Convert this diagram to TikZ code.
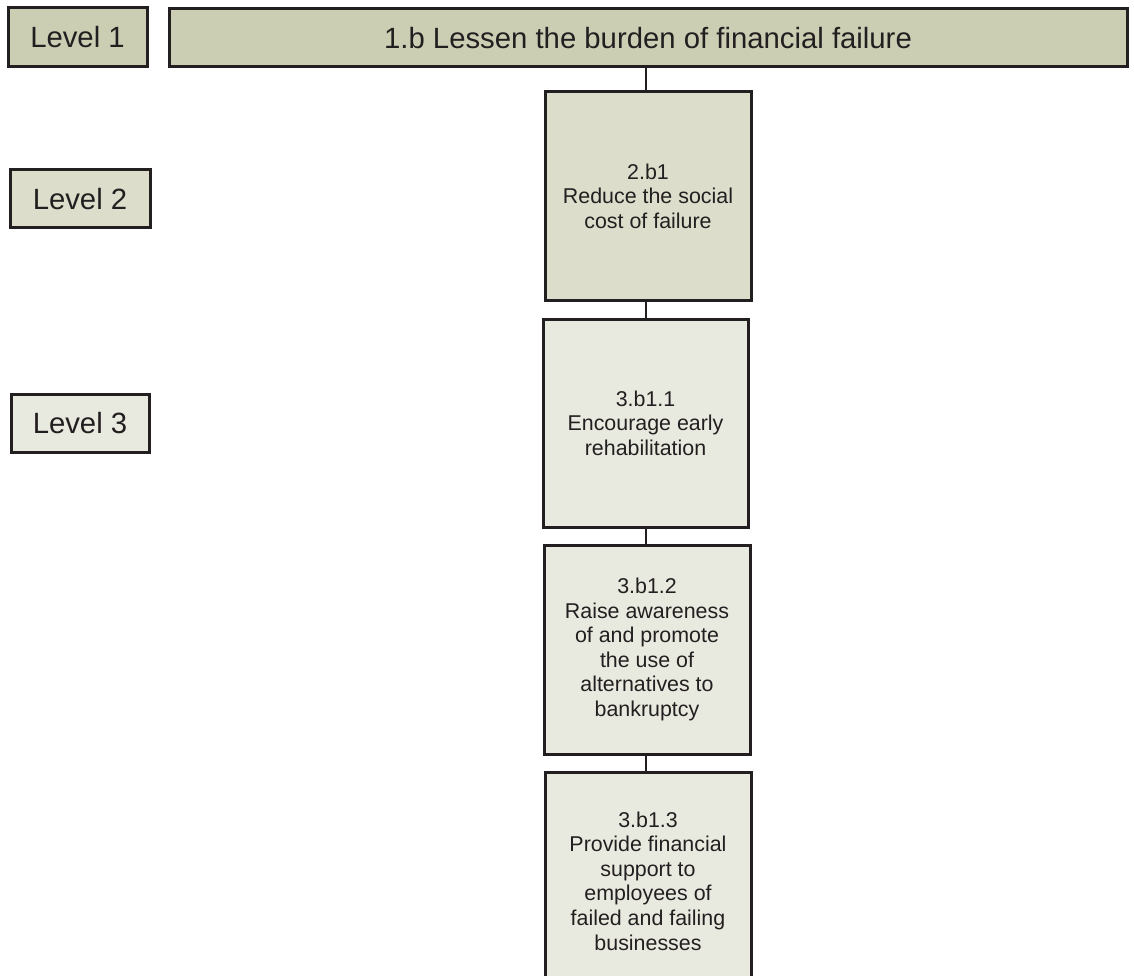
\documentclass[tikz,border=0pt]{standalone}
\usepackage{fontspec}
\setmainfont{Liberation Sans}
\definecolor{lvone}{HTML}{CCCEB4}
\definecolor{lvtwo}{HTML}{DCDDCB}
\definecolor{lvthree}{HTML}{E9EADF}
\definecolor{edge}{HTML}{231F20}
\definecolor{txt}{HTML}{231F20}
\tikzset{
  base/.style={draw=edge, line width=3pt, rectangle, inner sep=0pt, align=center, text=txt},
  levelbox/.style={base, font=\fontsize{29.3}{34}\selectfont},
  goalbox/.style={base, minimum width=206pt, font=\fontsize{21.4}{24.6}\selectfont},
  conn/.style={draw=edge, line width=2.8pt},
}
\begin{document}
\begin{tikzpicture}[x=1pt,y=-1pt]
\clip (0,0) rectangle (1134,976);
\node[levelbox, fill=lvone, minimum width=139pt, minimum height=59pt] (l1) at (77.5,37.5) {Level 1};
\node[levelbox, fill=lvone, minimum width=958pt, minimum height=58pt] (title) at (648,38) {1.b Lessen the burden of financial failure};
\node[levelbox, fill=lvtwo, minimum width=140pt, minimum height=58pt] (l2) at (80,199) {Level 2};
\node[levelbox, fill=lvthree, minimum width=138pt, minimum height=58pt] (l3) at (80,423) {Level 3};
\node[goalbox, fill=lvtwo, minimum height=208pt] (b2) at (648,196) {2.b1\\Reduce the social\\cost of failure};
\node[goalbox, fill=lvthree, minimum width=205pt, minimum height=208pt] (b31) at (645.5,423) {3.b1.1\\Encourage early\\rehabilitation};
\node[goalbox, fill=lvthree, minimum height=209pt] (b32) at (647,649.5) {3.b1.2\\Raise awareness\\of and promote\\the use of\\alternatives to\\bankruptcy};
\node[goalbox, fill=lvthree, minimum height=218pt] (b33) at (648,881) {3.b1.3\\Provide financial\\support to\\employees of\\failed and failing\\businesses};
\coordinate (cx) at (646,0);
\draw[conn] (title.south -| cx) -- (b2.north -| cx);
\draw[conn] (b2.south -| cx) -- (b31.north -| cx);
\draw[conn] (b31.south -| cx) -- (b32.north -| cx);
\draw[conn] (b32.south -| cx) -- (b33.north -| cx);
\end{tikzpicture}
\end{document}
